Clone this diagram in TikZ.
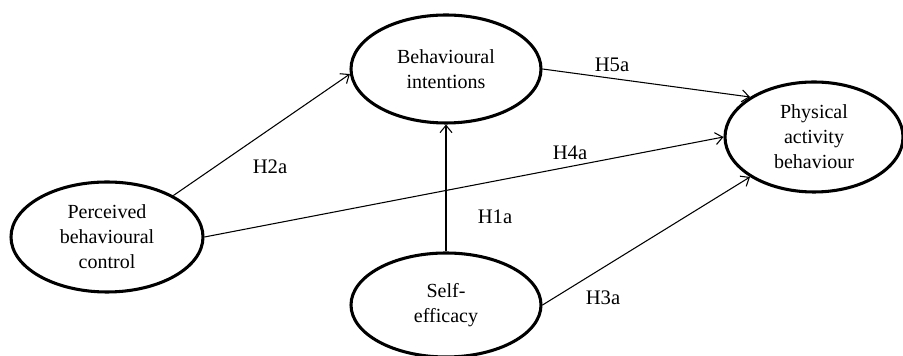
\documentclass[tikz,border=0pt]{standalone}
\usepackage{fontspec}
\setmainfont{Liberation Serif}
\usepackage{tikz}
\usetikzlibrary{arrows.meta,positioning,shapes.geometric}

\begin{document}
\begin{tikzpicture}[x=0.75pt,y=0.75pt,
		construct/.style={ellipse,draw,line width=2.3pt,inner sep=0pt,align=center,
			font=\fontsize{15}{18.7}\selectfont},
		hyp/.style={-{Straight Barb[length=5.5pt,width=9pt]},line width=0.8pt},
		hlabel/.style={font=\fontsize{15.5}{18}\selectfont}]
			\useasboundingbox (0,0) rectangle (903,356);
			
			% constructs
			\node[construct,minimum width=144pt,minimum height=82.5pt] (pbc) at (107,119) {Perceived\\behavioural\\control};
			\node[construct,minimum width=142.5pt,minimum height=81pt] (bi) at (446,287) {Behavioural\\intentions};
			\node[construct,minimum width=133.5pt,minimum height=82.5pt] (pab) at (814,219) {Physical\\activity\\behaviour};
			\node[construct,minimum width=142.5pt,minimum height=78pt] (se) at (446,51) {Self-\\efficacy};
			
			% paths
			\draw[hyp] (pbc.32) -- (bi.183);
			\draw[hyp] (pbc.east) -- (pab.west);
			\draw[hyp] (bi.east) -- (pab.148);
			\draw[hyp] (se.north) -- (bi.south);
			\draw[hyp] (se.east) -- (pab.212);
			
			% hypotheses
			\node[hlabel] (h2a) at (270,189) {H2a};
			\node[hlabel] (h4a) at (570,203) {H4a};
			\node[hlabel] (h1a) at (495,139) {H1a};
			\node[hlabel] (h5a) at (612,291) {H5a};
			\node[hlabel] (h3a) at (603,58) {H3a};
			
		\end{tikzpicture}
\end{document}
